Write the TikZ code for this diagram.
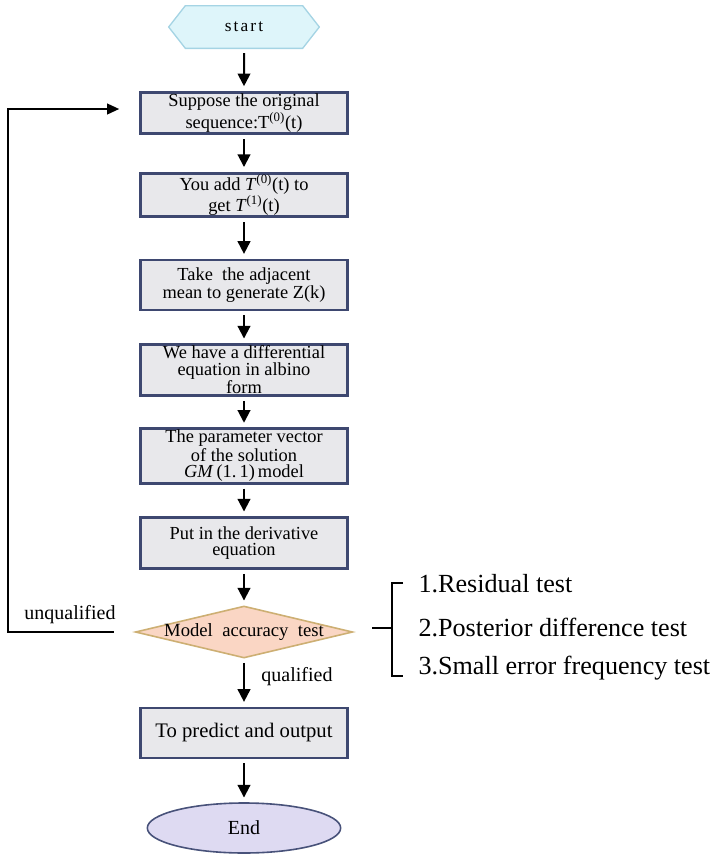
\documentclass[tikz,border=0pt]{standalone}
\usepackage{fontspec}
\setmainfont{Liberation Serif}
\usetikzlibrary{shapes.geometric,shapes.symbols,arrows.meta}

\definecolor{boxline}{RGB}{62,72,112}
\definecolor{boxfill}{RGB}{232,232,235}
\definecolor{startfill}{RGB}{222,245,250}
\definecolor{startline}{RGB}{165,212,228}
\definecolor{testfill}{RGB}{250,214,196}
\definecolor{testline}{RGB}{205,175,115}
\definecolor{endfill}{RGB}{222,218,242}
\definecolor{endline}{RGB}{72,82,122}

\tikzset{every picture/.style={line width=0.75pt}}
\tikzset{
  procbox/.style={draw=boxline, line width=2.2pt, fill=boxfill, minimum width=155pt, align=center, inner sep=1pt, font=\fontsize{13.8}{12.5}\selectfont},
  startbox/.style={signal, signal to=west and east, signal pointer angle=104, draw=startline, line width=1pt, fill=startfill, minimum width=113pt, minimum height=32pt, font=\fontsize{13}{13}\selectfont\addfontfeature{LetterSpace=12}},
  testbox/.style={diamond, draw=testline, line width=1.2pt, fill=testfill, minimum width=163pt, minimum height=39pt, inner sep=0pt},
  endbox/.style={ellipse, draw=endline, line width=1.2pt, fill=endfill, minimum width=145pt, minimum height=37.5pt, font=\fontsize{15}{15}\selectfont},
  flow/.style={-{Triangle[length=9.5pt,width=9.5pt]}, line width=1.5pt, shorten <=3pt, shorten >=3.5pt},
  tag/.style={font=\fontsize{15}{15}\selectfont, inner sep=0pt},
  note/.style={font=\fontsize{19.6}{19.6}\selectfont, anchor=west, inner sep=0pt}
}

\begin{document}
\begin{tikzpicture}[x=0.75pt,y=0.75pt,yscale=-1,xscale=1]
\useasboundingbox (0,0) rectangle (712,854);

% Nodes
\node[startbox] (start) at (244,27) {start};
\node[procbox, minimum height=31pt, font=\fontsize{13.8}{14}\selectfont] (orig) at (244,113) {Suppose the original\\sequence:T\textsuperscript{(0)}(t)};
\node[procbox, minimum height=27pt] (accum) at (244,195) {You add \textit{T}\textsuperscript{(0)}(t) to\\get \textit{T}\textsuperscript{(1)}(t)};
\node[procbox, minimum height=37.5pt] (mean) at (244,285) {Take\ \ the adjacent\\mean to generate Z(k)};
\node[procbox, minimum height=38pt] (diffeq) at (244,370) {We have a differential\\equation in albino\\form};
\node[procbox, minimum height=37.5pt] (param) at (244,456) {The parameter vector\\of the solution\\\textit{GM}\,(1.\,1)\,model};
\node[procbox, minimum height=38pt] (deriv) at (244,543) {Put in the derivative\\equation};
\node[testbox] (acc) at (244,632) {};
\node[font=\fontsize{14}{14}\selectfont, inner sep=0pt] (acctext) at (acc) {Model\ \ accuracy\ \ test};
\node[procbox, minimum height=37.5pt, font=\fontsize{15.5}{15.5}\selectfont] (predict) at (244,733) {To predict and output};
\node[endbox] (end) at (244,828) {End};

% Connectors
\draw[flow] (start) -- (orig);
\draw[flow] (orig) -- (accum);
\draw[flow] (accum) -- (mean);
\draw[flow] (mean) -- (diffeq);
\draw[flow] (diffeq) -- (param);
\draw[flow] (param) -- (deriv);
\draw[flow] (deriv) -- (acc);
\draw[flow] (acc) -- (predict);
\draw[flow] (predict) -- (end);

% Feedback
\coordinate (back) at (8,632);
\draw[-{Triangle[length=9pt,width=8pt]}, line width=1.3pt, shorten <=15.75pt, shorten >=15pt] (acc.west) -- (back) |- ([yshift=-3pt]orig.west);
\node[tag] (unq) at (70,615) {unqualified};
\node[tag] (qual) at (297,677) {qualified};

% Tests
\draw[line width=1.1pt] (403,583) -- (392,583) -- (392,676) -- (403,676);
\draw[line width=1.1pt] (372,628) -- (392,628);
\node[note] (res) at (418,584) {1.Residual test};
\node[note] (post) at (418,627) {2.Posterior difference test};
\node[note] (small) at (418,668) {3.Small error frequency test};

\end{tikzpicture}
\end{document}
